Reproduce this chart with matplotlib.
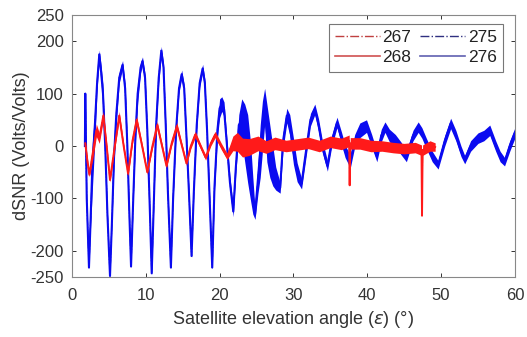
import numpy as np
import matplotlib
matplotlib.use("Agg")
import matplotlib.pyplot as plt

plt.rcParams['font.family'] = ['Liberation Sans', 'DejaVu Sans']
plt.rcParams['axes.unicode_minus'] = False

# satellite 276 (blue): elevation, trace centre, noise half-width
sat276_x = [1.75, 1.8, 2.0, 2.3, 2.5, 2.75, 3.1, 3.4, 3.7, 3.95, 4.2, 4.5, 4.8, 5.15, 5.4,
            5.7, 6.0, 6.4, 6.85, 7.2, 7.5, 7.75, 8.0, 8.3, 8.6, 8.9, 9.3, 9.55, 9.9, 10.2,
            10.5, 10.8, 11.1, 11.4, 11.75, 12.1, 12.4, 12.7, 13.0, 13.4, 13.7, 14.1, 14.5,
            14.86, 15.2, 15.5, 15.85, 16.2, 16.5, 16.9, 17.3, 17.7, 18.0, 18.3, 18.6, 19.0,
            19.3, 19.7, 20.0, 20.3, 20.6, 21.0, 21.4,
            21.85, 22.2, 22.6, 23.0, 23.4, 23.8, 24.2, 24.5, 24.8, 25.2, 25.5, 25.8,
            26.1, 26.4, 26.8, 27.2, 27.6, 28.2, 28.6, 29.1, 29.5, 30.0, 30.5, 31.1,
            31.6, 32.3, 32.9, 33.4, 33.9, 34.6, 35.2, 35.9, 36.5, 37.0, 37.7,
            38.3, 39.0, 39.9, 40.6, 41.3, 41.9, 42.4, 43.0, 43.8, 44.6, 45.3, 46.2, 46.9,
            47.4, 48.0, 48.8, 49.6, 50.5, 51.3, 52.0, 52.7, 53.2, 54.0, 55.0, 55.8, 56.6,
            57.4, 58.0, 58.6, 59.3, 60.0]
sat276_y = [0, 100, -100, -232, -150, -40, 40, 120, 175, 140, 100, 0, -130, -248, -150,
            -20, 60, 130, 155, 110, 0, -120, -230, -100, 20, 100, 150, 162, 130, 30,
            -100, -243, -100, 40, 130, 182, 150, 40, -90, -232, -100, 30, 110,
            137, 110, 20, -90, -210, -90, 40, 120, 148, 120, 30, -80, -232,
            -80, 30, 72, 80, 70, 0, -70,
            -125, -40, 40, 50, 25, -5, -50, -95, -130, -60, -10, 38,
            75, 25, -10, -38, -62, -80, 10, 58, 40, -10, -50, -72,
            -20, 50, 70, 40, 0, -38, 10, 45, 15, -10, -30,
            10, 30, 38, 10, -20, 20, 36, 20, 10, -5, -20, 20, 36,
            25, 5, -20, -36, 10, 43, 20, -10, -26, 0, 15, 20, 30,
            0, -20, -30, 0, 25]
sat276_noise = [2, 4, 4, 3, 10, 45, 30, 12, 8, 14, 18, 5, 4, 3, 5,
                12, 18, 10, 8, 10, 5, 4, 3, 5, 10, 16, 10, 8, 8, 5,
                4, 3, 5, 12, 10, 8, 8, 5, 4, 3, 5, 8, 8,
                8, 8, 5, 5, 3, 5, 8, 8, 8, 8, 5, 5, 3,
                8, 14, 18, 14, 14, 12, 12,
                10, 10, 20, 40, 55, 65, 55, 35, 10, 30, 50, 48,
                35, 55, 50, 38, 22, 10, 15, 14, 20, 25, 18, 10,
                12, 12, 10, 12, 12, 10, 10, 10, 12, 12, 12,
                12, 14, 12, 12, 10, 12, 10, 12, 12, 12, 10, 10, 10,
                10, 10, 10, 8, 10, 10, 10, 10, 8, 10, 10, 10, 10,
                10, 10, 8, 10, 10]

# satellite 268 (red)
sat268_x = [1.8, 2.1, 2.35, 2.8, 3.3, 3.7, 4.25, 4.7, 5.15, 5.8, 6.4, 7.0, 7.6, 8.2, 8.76,
            9.5, 10.2, 10.9, 11.55, 12.2, 12.8, 13.5, 14.2, 14.9, 15.5, 16.1, 16.7, 17.4,
            18.1, 18.8, 19.4, 20.2, 21.0, 21.8, 22.4, 23.1, 24.0, 25.2, 26.3, 27.5, 29.0,
            30.5, 32.0, 33.5, 35.0, 36.5, 37.55, 37.62, 37.7, 39.0, 40.5, 42.0, 43.5,
            45.0, 46.5, 47.35, 47.42, 47.5, 48.5, 49.2]
sat268_y = [5, -30, -55, -15, 30, 15, 58, 0, -65, 0, 58, 0, -53, 10, 50,
            0, -50, 0, 40, 0, -38, 5, 38, 0, -33, 0, 22, 0,
            -22, 5, 22, 0, -20, 5, 8, -3, -2, 5, -2, 5, 0,
            3, 6, 0, 8, 4, 10, -75, 5, 5, 0, 0, -3,
            -5, -3, -8, -133, -8, 0, -2]
sat268_noise = [5, 6, 4, 12, 12, 10, 8, 5, 4, 5, 8, 5, 4, 5, 7,
                5, 4, 5, 7, 5, 4, 5, 7, 5, 4, 5, 6, 5,
                5, 5, 6, 6, 6, 14, 18, 18, 16, 14, 12, 12, 11,
                11, 11, 11, 11, 11, 11, 2, 11, 11, 11, 10, 10,
                10, 10, 10, 2, 10, 10, 8]

# 267 / 275 lie underneath 268 / 276
sat267_x, sat267_y = sat268_x, sat268_y
sat275_x, sat275_y = sat276_x, sat276_y

xticks = [0, 10, 20, 30, 40, 50, 60]
yticks = [-250, -200, -100, 0, 100, 200, 250]

fig = plt.figure(figsize=(5.27, 3.37), dpi=100)
ax = fig.add_axes([0.1366, 0.178, 0.8404, 0.7775])

ax.plot(sat267_x, sat267_y, '-.', color='#b22222', lw=0.8, zorder=1)
ax.plot(sat275_x, sat275_y, '-.', color='#1f2a8a', lw=0.8, zorder=1)

blue = '#0a0af0'
red = '#ff1a1a'
y = np.array(sat276_y)
n = np.array(sat276_noise)
ax.fill_between(sat276_x, y - n, y + n, color=blue, lw=0, zorder=2)
ax.plot(sat276_x, y, color=blue, lw=1.5, zorder=2)

y = np.array(sat268_y)
n = np.array(sat268_noise)
ax.fill_between(sat268_x, y - n, y + n, color=red, lw=0, zorder=3)
ax.plot(sat268_x, y, color=red, lw=1.4, zorder=3)

# legend proxies
h267 = plt.Line2D([], [], ls='-.', color='#c04040', lw=1)
h268 = plt.Line2D([], [], ls='-', color='#d05050', lw=1.2)
h275 = plt.Line2D([], [], ls='-.', color='#303080', lw=1)
h276 = plt.Line2D([], [], ls='-', color='#6060b0', lw=1.2)
leg = ax.legend([h267, h268, h275, h276], ['267', '268', '275', '276'], ncol=2,
                loc='upper right', bbox_to_anchor=(0.973, 0.966), borderaxespad=0,
                fontsize=12.5, handlelength=2.6, handletextpad=0.15, columnspacing=0.5,
                labelspacing=0.3, borderpad=0.35, fancybox=False, framealpha=1,
                edgecolor='#777777')
leg.get_frame().set_linewidth(0.8)
for t in leg.get_texts():
    t.set_color('#222222')

ax.set_xlim(0, 60)
ax.set_ylim(-250, 250)
ax.set_xticks(xticks)
ax.set_yticks(yticks)
ax.tick_params(direction='in', top=True, right=True, labelsize=12,
               colors='#333333', length=3, width=0.7)
ax.tick_params(axis='x', pad=8)
ax.tick_params(axis='y', pad=6)
for s in ax.spines.values():
    s.set_color('#888888')
    s.set_linewidth(0.8)

ax.set_xlabel(r'Satellite elevation angle ($\epsilon$) (°)', fontsize=13, color='#333333', labelpad=4)
ax.set_ylabel('dSNR (Volts/Volts)', fontsize=13, color='#333333')
ax.yaxis.set_label_coords(-0.095, 0.5)

fig.savefig('out.png', dpi=100)
